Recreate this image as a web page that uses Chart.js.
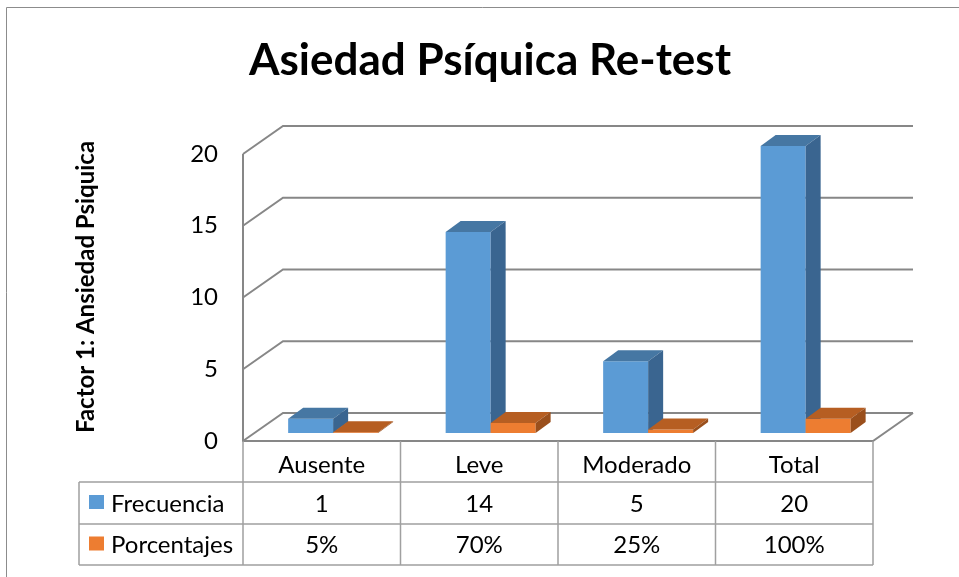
<!DOCTYPE html>
<html>
<head>
<meta charset="utf-8">
<script src="https://cdn.jsdelivr.net/npm/chart.js@4/dist/chart.umd.min.js"></script>
<style>
  html, body { margin: 0; padding: 0; background: #fff; }
  #wrap { width: 959px; height: 577px; }
</style>
</head>
<body>
<div id="wrap"><canvas id="chart" width="959" height="577"></canvas></div>
<script>
// data
const categories = ["Ausente", "Leve", "Moderado", "Total"];
const frecuencia = [1, 14, 5, 20];
const porcentajes = [0.05, 0.70, 0.25, 1.00];
const seriesNames = ["Frecuencia", "Porcentajes"];
const yMin = 0;
const yMax = 20;
const yStep = 5;

const FONT = "Lato, 'Open Sans', sans-serif";
const GRID = "#878787";
const TABLE_LINE = "#a0a0a0";
const DEPTH = { dx: 40, dy: -28 };   // floor depth of the 3d box
const SHIFT = { dx: 11.4, dy: -8 };  // plane the bars stand in
const BAR = { dx: 15, dy: -11 };     // depth of each bar

const pct = (v) => Math.round(v * 100) + "%";

// back walls + floor, drawn before the bars
const walls = {
  id: "walls",
  beforeDatasetsDraw(chart) {
    const { ctx, chartArea: a, scales } = chart;
    const y = scales.y;
    ctx.save();
    ctx.strokeStyle = GRID;
    ctx.lineWidth = 2;
    y.ticks.forEach((t) => {
      const yy = y.getPixelForValue(t.value);
      ctx.beginPath();
      ctx.moveTo(a.left, yy);
      ctx.lineTo(a.left + DEPTH.dx, yy + DEPTH.dy);
      ctx.lineTo(a.right + DEPTH.dx, yy + DEPTH.dy);
      ctx.stroke();
    });
    ctx.beginPath();
    ctx.moveTo(a.left, a.top);
    ctx.lineTo(a.left, a.bottom);
    ctx.lineTo(a.right, a.bottom);
    ctx.lineTo(a.right + DEPTH.dx, a.bottom + DEPTH.dy);
    ctx.stroke();
    ctx.restore();
  },
};

// bars are drawn here in dataset order, shifted into the box, with top / side faces
const bars3d = {
  id: "bars3d",
  beforeDatasetDraw() {
    return false;
  },
  afterDatasetsDraw(chart) {
    const ctx = chart.ctx;
    chart.data.datasets.forEach((ds, i) => {
      const meta = chart.getDatasetMeta(i);
      ctx.save();
      ctx.translate(SHIFT.dx, SHIFT.dy);
      meta.data.forEach((bar) => {
        bar.draw(ctx);
        const { x, y, base, width } = bar.getProps(["x", "y", "base", "width"], true);
        const l = x - width / 2;
        const r = x + width / 2;
        ctx.fillStyle = ds.topColor;
        ctx.beginPath();
        ctx.moveTo(l, y);
        ctx.lineTo(l + BAR.dx, y + BAR.dy);
        ctx.lineTo(r + BAR.dx, y + BAR.dy);
        ctx.lineTo(r, y);
        ctx.closePath();
        ctx.fill();
        ctx.fillStyle = ds.sideColor;
        ctx.beginPath();
        ctx.moveTo(r, y);
        ctx.lineTo(r + BAR.dx, y + BAR.dy);
        ctx.lineTo(r + BAR.dx, base + BAR.dy);
        ctx.lineTo(r, base);
        ctx.closePath();
        ctx.fill();
      });
      ctx.restore();
    });
  },
};

// border, titles and data table
const decor = {
  id: "decor",
  afterDraw(chart) {
    const { ctx, chartArea: a, scales } = chart;
    const x = scales.x;
    ctx.save();

    ctx.strokeStyle = "#8c8c8c";
    ctx.lineWidth = 1;
    ctx.beginPath();
    ctx.moveTo(6.5, 577);
    ctx.lineTo(6.5, 7.5);
    ctx.lineTo(959, 7.5);
    ctx.stroke();

    ctx.fillStyle = "#000";
    ctx.textAlign = "center";
    ctx.textBaseline = "middle";
    ctx.font = "bold 44px " + FONT;
    ctx.fillText("Asiedad Psíquica Re-test", 490, 61);

    ctx.save();
    ctx.translate(86, 287);
    ctx.rotate(-Math.PI / 2);
    ctx.font = "bold 24px " + FONT;
    ctx.fillText("Factor 1: Ansiedad Psiquica", 0, 0);
    ctx.restore();

    // table grid
    const n = categories.length;
    const colW = a.width / n;
    const r1 = a.bottom + 41, r2 = a.bottom + 83, r3 = a.bottom + 124;
    const tLeft = 79;
    ctx.strokeStyle = TABLE_LINE;
    ctx.lineWidth = 1.5;
    ctx.beginPath();
    [r1, r2, r3].forEach((yy) => {
      ctx.moveTo(tLeft, yy);
      ctx.lineTo(a.right, yy);
    });
    ctx.moveTo(tLeft, r1);
    ctx.lineTo(tLeft, r3);
    for (let i = 0; i <= n; i++) {
      const xx = a.left + i * colW;
      ctx.moveTo(xx, a.bottom);
      ctx.lineTo(xx, r3);
    }
    ctx.stroke();

    const rows = [
      { y: (r1 + r2) / 2, vals: frecuencia.map(String), ds: 0 },
      { y: (r2 + r3) / 2, vals: porcentajes.map(pct), ds: 1 },
    ];
    ctx.font = "24px " + FONT;
    rows.forEach((row) => {
      const ds = chart.data.datasets[row.ds];
      ctx.fillStyle = ds.backgroundColor;
      ctx.fillRect(89, row.y - 8, 15, 14);
      ctx.fillStyle = "#000";
      ctx.textAlign = "left";
      ctx.fillText(ds.label, 111, row.y + 1);
      ctx.textAlign = "center";
      row.vals.forEach((v, i) => {
        ctx.fillText(v, x.getPixelForValue(i), row.y + 1);
      });
    });
    ctx.restore();
  },
};

new Chart(document.getElementById("chart"), {
  type: "bar",
  data: {
    labels: categories,
    datasets: [
      {
        label: seriesNames[0],
        data: frecuencia,
        backgroundColor: "#5B9BD5",
        topColor: "#4677A3",
        sideColor: "#3A6590",
        clip: false,
      },
      {
        label: seriesNames[1],
        data: porcentajes,
        backgroundColor: "#ED7D31",
        topColor: "#B65E22",
        sideColor: "#9A4F1C",
        clip: false,
      },
    ],
  },
  options: {
    responsive: false,
    animation: false,
    events: [],
    categoryPercentage: 90 / 157.5,
    barPercentage: 1,
    layout: { padding: { left: 0, top: 154, right: 86, bottom: 0 } },
    plugins: {
      legend: { display: false },
      tooltip: { enabled: false },
    },
    scales: {
      x: {
        grid: { display: false, drawTicks: false },
        border: { display: false },
        ticks: { color: "#000", font: { family: FONT, size: 24 }, padding: 10 },
        afterFit(scale) { scale.height = 136; },
      },
      y: {
        min: yMin,
        max: yMax,
        grid: { display: false, drawTicks: false },
        border: { display: false },
        ticks: { stepSize: yStep, color: "#000", font: { family: FONT, size: 24 }, padding: 25 },
        afterFit(scale) { scale.width = 243; },
      },
    },
  },
  plugins: [walls, bars3d, decor],
});
</script>
</body>
</html>
